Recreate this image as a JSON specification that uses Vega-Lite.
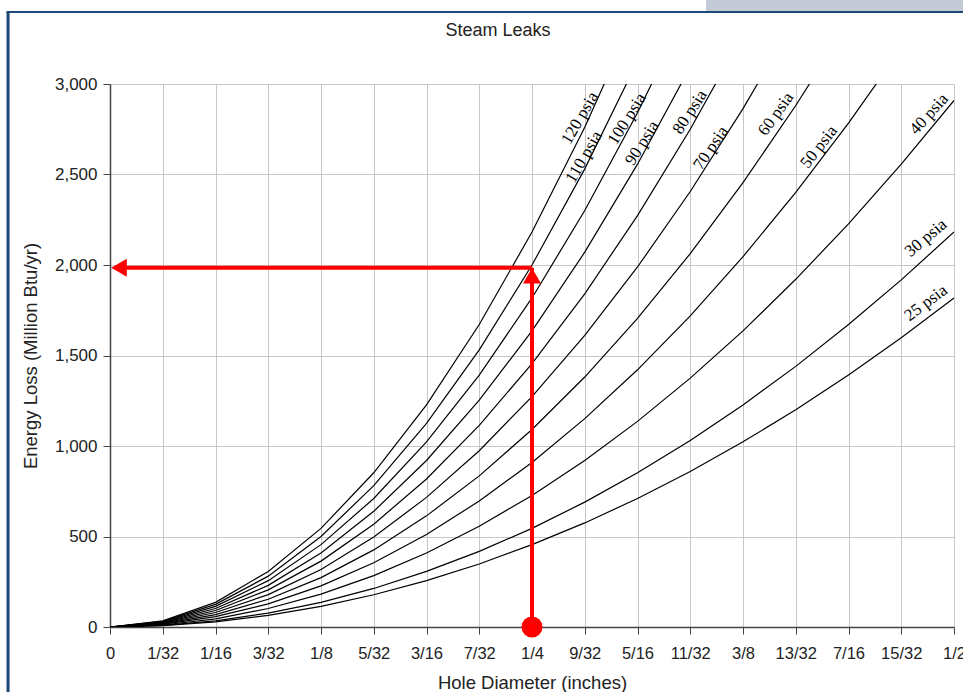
{
  "$schema": "https://vega.github.io/schema/vega-lite/v6.json",
  "width": 844,
  "height": 543,
  "autosize": {"type": "none"},
  "padding": {"left": 110, "top": 84, "right": 9, "bottom": 65},
  "background": "white",
  "title": {"text": "Steam Leaks", "font": "Liberation Sans", "fontSize": 18, "fontWeight": "normal", "color": "#222", "anchor": "middle", "frame": "group", "dx": -34, "baseline": "bottom", "offset": -58},
  "datasets": {
    "curves": [
      {"psia":25,"d":0,"e":0},{"psia":25,"d":0.03125,"e":7},{"psia":25,"d":0.0625,"e":28},{"psia":25,"d":0.09375,"e":64},{"psia":25,"d":0.125,"e":114},{"psia":25,"d":0.15625,"e":178},{"psia":25,"d":0.1875,"e":256},{"psia":25,"d":0.21875,"e":348},{"psia":25,"d":0.25,"e":455},{"psia":25,"d":0.28125,"e":575},{"psia":25,"d":0.3125,"e":710},{"psia":25,"d":0.34375,"e":859},{"psia":25,"d":0.375,"e":1023},{"psia":25,"d":0.40625,"e":1200},{"psia":25,"d":0.4375,"e":1392},{"psia":25,"d":0.46875,"e":1598},{"psia":25,"d":0.5,"e":1818},
      {"psia":30,"d":0,"e":0},{"psia":30,"d":0.03125,"e":9},{"psia":30,"d":0.0625,"e":34},{"psia":30,"d":0.09375,"e":77},{"psia":30,"d":0.125,"e":136},{"psia":30,"d":0.15625,"e":213},{"psia":30,"d":0.1875,"e":307},{"psia":30,"d":0.21875,"e":418},{"psia":30,"d":0.25,"e":545},{"psia":30,"d":0.28125,"e":690},{"psia":30,"d":0.3125,"e":852},{"psia":30,"d":0.34375,"e":1031},{"psia":30,"d":0.375,"e":1227},{"psia":30,"d":0.40625,"e":1440},{"psia":30,"d":0.4375,"e":1671},{"psia":30,"d":0.46875,"e":1918},{"psia":30,"d":0.5,"e":2182},
      {"psia":40,"d":0,"e":0},{"psia":40,"d":0.03125,"e":11},{"psia":40,"d":0.0625,"e":45},{"psia":40,"d":0.09375,"e":102},{"psia":40,"d":0.125,"e":182},{"psia":40,"d":0.15625,"e":284},{"psia":40,"d":0.1875,"e":409},{"psia":40,"d":0.21875,"e":557},{"psia":40,"d":0.25,"e":727},{"psia":40,"d":0.28125,"e":920},{"psia":40,"d":0.3125,"e":1136},{"psia":40,"d":0.34375,"e":1375},{"psia":40,"d":0.375,"e":1636},{"psia":40,"d":0.40625,"e":1921},{"psia":40,"d":0.4375,"e":2227},{"psia":40,"d":0.46875,"e":2557},{"psia":40,"d":0.5,"e":2909},
      {"psia":50,"d":0,"e":0},{"psia":50,"d":0.03125,"e":14},{"psia":50,"d":0.0625,"e":57},{"psia":50,"d":0.09375,"e":128},{"psia":50,"d":0.125,"e":227},{"psia":50,"d":0.15625,"e":355},{"psia":50,"d":0.1875,"e":511},{"psia":50,"d":0.21875,"e":696},{"psia":50,"d":0.25,"e":909},{"psia":50,"d":0.28125,"e":1151},{"psia":50,"d":0.3125,"e":1421},{"psia":50,"d":0.34375,"e":1719},{"psia":50,"d":0.375,"e":2046},{"psia":50,"d":0.40625,"e":2401},{"psia":50,"d":0.4375,"e":2784},{"psia":50,"d":0.46875,"e":3196},
      {"psia":60,"d":0,"e":0},{"psia":60,"d":0.03125,"e":17},{"psia":60,"d":0.0625,"e":68},{"psia":60,"d":0.09375,"e":153},{"psia":60,"d":0.125,"e":273},{"psia":60,"d":0.15625,"e":426},{"psia":60,"d":0.1875,"e":614},{"psia":60,"d":0.21875,"e":835},{"psia":60,"d":0.25,"e":1091},{"psia":60,"d":0.28125,"e":1381},{"psia":60,"d":0.3125,"e":1705},{"psia":60,"d":0.34375,"e":2063},{"psia":60,"d":0.375,"e":2455},{"psia":60,"d":0.40625,"e":2881},{"psia":60,"d":0.4375,"e":3341},
      {"psia":70,"d":0,"e":0},{"psia":70,"d":0.03125,"e":20},{"psia":70,"d":0.0625,"e":80},{"psia":70,"d":0.09375,"e":179},{"psia":70,"d":0.125,"e":318},{"psia":70,"d":0.15625,"e":497},{"psia":70,"d":0.1875,"e":716},{"psia":70,"d":0.21875,"e":974},{"psia":70,"d":0.25,"e":1273},{"psia":70,"d":0.28125,"e":1611},{"psia":70,"d":0.3125,"e":1989},{"psia":70,"d":0.34375,"e":2406},{"psia":70,"d":0.375,"e":2864},{"psia":70,"d":0.40625,"e":3361},
      {"psia":80,"d":0,"e":0},{"psia":80,"d":0.03125,"e":23},{"psia":80,"d":0.0625,"e":91},{"psia":80,"d":0.09375,"e":205},{"psia":80,"d":0.125,"e":364},{"psia":80,"d":0.15625,"e":568},{"psia":80,"d":0.1875,"e":818},{"psia":80,"d":0.21875,"e":1114},{"psia":80,"d":0.25,"e":1455},{"psia":80,"d":0.28125,"e":1841},{"psia":80,"d":0.3125,"e":2273},{"psia":80,"d":0.34375,"e":2750},{"psia":80,"d":0.375,"e":3273},
      {"psia":90,"d":0,"e":0},{"psia":90,"d":0.03125,"e":26},{"psia":90,"d":0.0625,"e":102},{"psia":90,"d":0.09375,"e":230},{"psia":90,"d":0.125,"e":409},{"psia":90,"d":0.15625,"e":639},{"psia":90,"d":0.1875,"e":920},{"psia":90,"d":0.21875,"e":1253},{"psia":90,"d":0.25,"e":1636},{"psia":90,"d":0.28125,"e":2071},{"psia":90,"d":0.3125,"e":2557},{"psia":90,"d":0.34375,"e":3094},
      {"psia":100,"d":0,"e":0},{"psia":100,"d":0.03125,"e":28},{"psia":100,"d":0.0625,"e":114},{"psia":100,"d":0.09375,"e":256},{"psia":100,"d":0.125,"e":455},{"psia":100,"d":0.15625,"e":710},{"psia":100,"d":0.1875,"e":1023},{"psia":100,"d":0.21875,"e":1392},{"psia":100,"d":0.25,"e":1818},{"psia":100,"d":0.28125,"e":2301},{"psia":100,"d":0.3125,"e":2841},{"psia":100,"d":0.34375,"e":3438},
      {"psia":110,"d":0,"e":0},{"psia":110,"d":0.03125,"e":31},{"psia":110,"d":0.0625,"e":125},{"psia":110,"d":0.09375,"e":281},{"psia":110,"d":0.125,"e":500},{"psia":110,"d":0.15625,"e":781},{"psia":110,"d":0.1875,"e":1125},{"psia":110,"d":0.21875,"e":1531},{"psia":110,"d":0.25,"e":2000},{"psia":110,"d":0.28125,"e":2531},{"psia":110,"d":0.3125,"e":3125},
      {"psia":120,"d":0,"e":0},{"psia":120,"d":0.03125,"e":34},{"psia":120,"d":0.0625,"e":136},{"psia":120,"d":0.09375,"e":307},{"psia":120,"d":0.125,"e":545},{"psia":120,"d":0.15625,"e":852},{"psia":120,"d":0.1875,"e":1227},{"psia":120,"d":0.21875,"e":1671},{"psia":120,"d":0.25,"e":2182},{"psia":120,"d":0.28125,"e":2761},{"psia":120,"d":0.3125,"e":3409}
    ],
    "labels": [
      {"psia":120,"label":"120 psia","d":0.2784,"e":2812},
      {"psia":110,"label":"110 psia","d":0.2808,"e":2597},
      {"psia":100,"label":"100 psia","d":0.3063,"e":2807},
      {"psia":90,"label":"90 psia","d":0.3152,"e":2674},
      {"psia":80,"label":"80 psia","d":0.3436,"e":2845},
      {"psia":70,"label":"70 psia","d":0.3560,"e":2646},
      {"psia":60,"label":"60 psia","d":0.3945,"e":2834},
      {"psia":50,"label":"50 psia","d":0.4200,"e":2652},
      {"psia":40,"label":"40 psia","d":0.4852,"e":2834},
      {"psia":30,"label":"30 psia","d":0.4834,"e":2149},
      {"psia":25,"label":"25 psia","d":0.4834,"e":1790}
    ],
    "lookup": [{"d": 0.25, "e": 1985}],
    "frame": [
      {"part": "tab", "d": 0.3531, "d2": 0.53, "e": 3403, "e2": 3464},
      {"part": "left", "d": -0.0613, "d2": -0.0595, "e": -500, "e2": 3398},
      {"part": "top", "d": -0.0613, "d2": 0.53, "e": 3392, "e2": 3404}
    ]
  },
  "encoding": {
    "x": {"field": "d", "type": "quantitative", "title": "Hole Diameter (inches)",
      "scale": {"domain": [0, 0.5], "nice": false, "zero": false},
      "axis": {"values": [0,0.03125,0.0625,0.09375,0.125,0.15625,0.1875,0.21875,0.25,0.28125,0.3125,0.34375,0.375,0.40625,0.4375,0.46875,0.5],
        "labelExpr": "datum.value == 0 ? '0' : (round(datum.value*32) % 16 == 0 ? '1/2' : (round(datum.value*32) % 8 == 0 ? (round(datum.value*32)/8) + '/4' : (round(datum.value*32) % 4 == 0 ? (round(datum.value*32)/4) + '/8' : (round(datum.value*32) % 2 == 0 ? (round(datum.value*32)/2) + '/16' : round(datum.value*32) + '/32'))))",
        "labelPadding": 11, "labelFontSize": 16.5, "titleY": 55, "titleBaseline": "middle", "labelFlush": false, "labelOverlap": false}},
    "y": {"field": "e", "type": "quantitative", "title": "Energy Loss (Million Btu/yr)",
      "scale": {"domain": [0, 3000], "nice": false},
      "axis": {"values": [0,500,1000,1500,2000,2500,3000], "format": ",d", "labelPadding": 6, "labelFontSize": 17, "titleX": -80, "titleY": 271.5, "titleBaseline": "middle", "titleAngle": -90}}
  },
  "layer": [
    {"data": {"name": "frame"}, "transform": [{"filter": "datum.part == 'tab'"}], "mark": {"type": "rect", "fill": "#c5cad7", "clip": false},
      "encoding": {"x2": {"field": "d2"}, "y2": {"field": "e2"}}},
    {"data": {"name": "frame"}, "transform": [{"filter": "datum.part != 'tab'"}], "mark": {"type": "rect", "fill": "#1d4778", "clip": false},
      "encoding": {"x2": {"field": "d2"}, "y2": {"field": "e2"}}},
    {"data": {"name": "curves"}, "mark": {"type": "line", "color": "black", "strokeWidth": 1.2, "clip": true},
      "encoding": {"detail": {"field": "psia", "type": "nominal"}, "order": {"field": "d", "type": "quantitative"}}},
    {"data": {"name": "labels"}, "mark": {"type": "text", "font": "Liberation Serif", "fontSize": 17, "color": "black", "align": "center", "baseline": "middle"},
      "encoding": {"text": {"field": "label"},
        "angle": {"field": "psia", "type": "quantitative", "legend": null, "scale": {"domain": [25,30,40,50,60,70,80,90,100,110,120], "range": [323,320,312,308,305,304,303,302,302,300,300]}}}},
    {"data": {"name": "lookup"}, "mark": {"type": "rule", "color": "#ff0000", "strokeWidth": 4},
      "encoding": {"y": {"datum": 0, "type": "quantitative"}, "y2": {"field": "e"}}},
    {"data": {"name": "lookup"}, "mark": {"type": "rule", "color": "#ff0000", "strokeWidth": 4},
      "encoding": {"x": {"datum": 0.004, "type": "quantitative"}, "x2": {"field": "d"}}},
    {"data": {"name": "lookup"}, "mark": {"type": "point", "shape": "triangle-up", "filled": true, "color": "#ff0000", "size": 324, "opacity": 1, "yOffset": 8}},
    {"data": {"name": "lookup"}, "mark": {"type": "point", "shape": "triangle-left", "filled": true, "color": "#ff0000", "size": 324, "opacity": 1, "xOffset": 9},
      "encoding": {"x": {"datum": 0, "type": "quantitative"}}},
    {"data": {"name": "lookup"}, "mark": {"type": "point", "shape": "circle", "filled": true, "color": "#ff0000", "size": 441, "opacity": 1},
      "encoding": {"y": {"datum": 0, "type": "quantitative"}}}
  ],
  "config": {
    "view": {"stroke": null},
    "axis": {"domainColor": "#444", "domainWidth": 1.5, "tickColor": "#444", "tickSize": 7, "gridColor": "#c6c6c6", "gridWidth": 1,
      "labelFont": "Liberation Sans", "labelFontSize": 15, "labelColor": "#222",
      "titleFont": "Liberation Sans", "titleFontSize": 18.5, "titleFontWeight": "normal", "titleColor": "#222"}
  }
}
